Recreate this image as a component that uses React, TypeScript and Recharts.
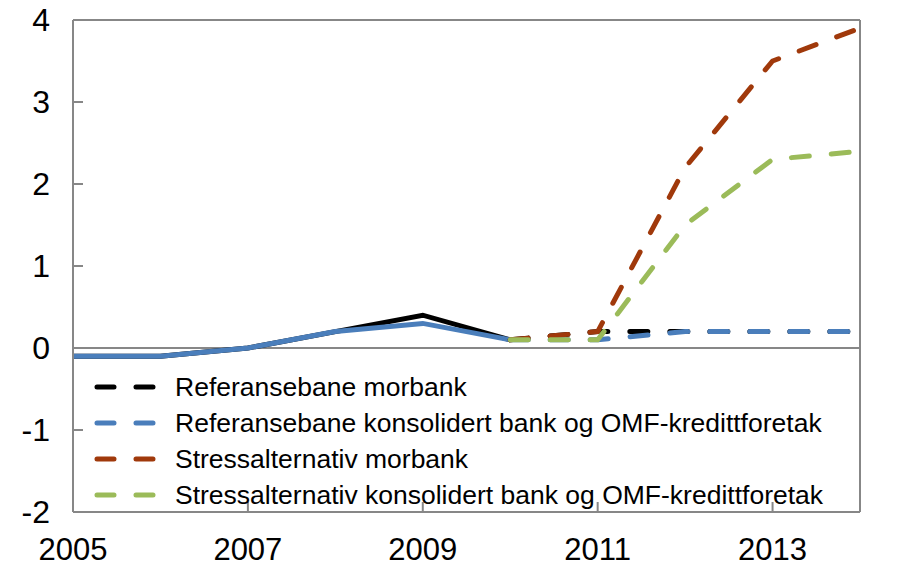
import React from 'react';
import {
  LineChart,
  Line,
  XAxis,
  YAxis,
  ReferenceLine,
  Legend,
} from 'recharts';

const years = [2005, 2006, 2007, 2008, 2009, 2010, 2011, 2012, 2013, 2014];

// historikk (heltrukket)
const refMorbankHist = [-0.1, -0.1, 0, 0.2, 0.4, 0.1, null, null, null, null];
const refKonsHist = [-0.1, -0.1, 0, 0.2, 0.3, 0.1, null, null, null, null];

// framskrivinger (stiplet)
const refMorbank = [null, null, null, null, null, 0.1, 0.2, 0.2, 0.2, 0.2];
const refKons = [null, null, null, null, null, 0.1, 0.1, 0.2, 0.2, 0.2];
const stressMorbank = [null, null, null, null, null, 0.1, 0.2, 2.2, 3.5, 3.9];
const stressKons = [null, null, null, null, null, 0.1, 0.1, 1.5, 2.3, 2.4];

const xTicks = [2005, 2007, 2009, 2011, 2013];
const yTicks = [-2, -1, 0, 1, 2, 3, 4];

const legendItems = [
  { label: 'Referansebane morbank', color: '#000000' },
  { label: 'Referansebane konsolidert bank og OMF-kredittforetak', color: '#4A7EBB' },
  { label: 'Stressalternativ morbank', color: '#A0390B' },
  { label: 'Stressalternativ konsolidert bank og OMF-kredittforetak', color: '#9BBB59' },
];

const FONT = '"Liberation Sans", Arial, sans-serif';
const AXIS = '#878787';
const DASH = '18 22';

const data = years.map((year, i) => ({
  year,
  refMorbankHist: refMorbankHist[i],
  refKonsHist: refKonsHist[i],
  refMorbank: refMorbank[i],
  refKons: refKons[i],
  stressMorbank: stressMorbank[i],
  stressKons: stressKons[i],
}));

function renderLegend() {
  return (
    <div style={{ fontFamily: FONT, fontSize: 26.5, color: '#000' }}>
      {legendItems.map((item) => (
        <div key={item.label} style={{ display: 'flex', alignItems: 'center', height: 36 }}>
          <svg width={81} height={10} style={{ flexShrink: 0 }}>
            <line
              x1={3}
              y1={5}
              x2={66}
              y2={5}
              stroke={item.color}
              strokeWidth={5}
              strokeLinecap="round"
              strokeDasharray="17 22"
            />
          </svg>
          <span style={{ whiteSpace: 'nowrap' }}>{item.label}</span>
        </div>
      ))}
    </div>
  );
}

export default function App() {
  const tick = { fontSize: 32, fill: '#000', fontFamily: FONT };
  return (
    <div style={{ position: 'absolute', left: 0, top: 0, width: 918, height: 568, background: '#fff' }}>
      <LineChart width={918} height={568} data={data} margin={{ top: 20, right: 0, left: 0, bottom: 0 }}>
        <XAxis
          dataKey="year"
          type="number"
          domain={[2005, 2014]}
          ticks={xTicks}
          interval={0}
          height={56}
          tick={{ ...tick, fontSize: 31 }}
          tickSize={-10}
          tickMargin={36}
          tickLine={{ stroke: AXIS, strokeWidth: 2 }}
          axisLine={{ stroke: AXIS, strokeWidth: 2 }}
        />
        <YAxis
          yAxisId="left"
          domain={[-2, 4]}
          ticks={yTicks}
          interval={0}
          width={73}
          tick={tick}
          tickSize={-10}
          tickMargin={33}
          tickLine={{ stroke: AXIS, strokeWidth: 2 }}
          axisLine={{ stroke: AXIS, strokeWidth: 2 }}
        />
        <YAxis
          yAxisId="right"
          orientation="right"
          domain={[-2, 4]}
          ticks={yTicks}
          interval={0}
          width={58}
          tick={{ ...tick, textAnchor: 'start' }}
          tickSize={-10}
          tickMargin={38}
          tickLine={{ stroke: AXIS, strokeWidth: 2 }}
          axisLine={{ stroke: AXIS, strokeWidth: 2 }}
        />
        <ReferenceLine yAxisId="left" y={4} stroke={AXIS} strokeWidth={2} />
        <ReferenceLine yAxisId="left" y={0} stroke={AXIS} strokeWidth={2} />
        <Legend
          layout="vertical"
          align="center"
          verticalAlign="middle"
          content={renderLegend}
          wrapperStyle={{ left: 94, top: 369, width: 'auto', height: 'auto' }}
        />
        <Line yAxisId="left" dataKey="refMorbankHist" stroke="#000000" strokeWidth={5} dot={false} isAnimationActive={false} />
        <Line yAxisId="left" dataKey="refKonsHist" stroke="#4A7EBB" strokeWidth={5} dot={false} isAnimationActive={false} />
        <Line yAxisId="left" dataKey="refMorbank" stroke="#000000" strokeWidth={5} strokeDasharray={DASH} strokeLinecap="round" dot={false} isAnimationActive={false} />
        <Line yAxisId="left" dataKey="refKons" stroke="#4A7EBB" strokeWidth={5} strokeDasharray={DASH} strokeLinecap="round" dot={false} isAnimationActive={false} />
        <Line yAxisId="left" dataKey="stressMorbank" stroke="#A0390B" strokeWidth={5} strokeDasharray={DASH} strokeLinecap="round" dot={false} isAnimationActive={false} />
        <Line yAxisId="left" dataKey="stressKons" stroke="#9BBB59" strokeWidth={5} strokeDasharray={DASH} strokeLinecap="round" dot={false} isAnimationActive={false} />
      </LineChart>
    </div>
  );
}
